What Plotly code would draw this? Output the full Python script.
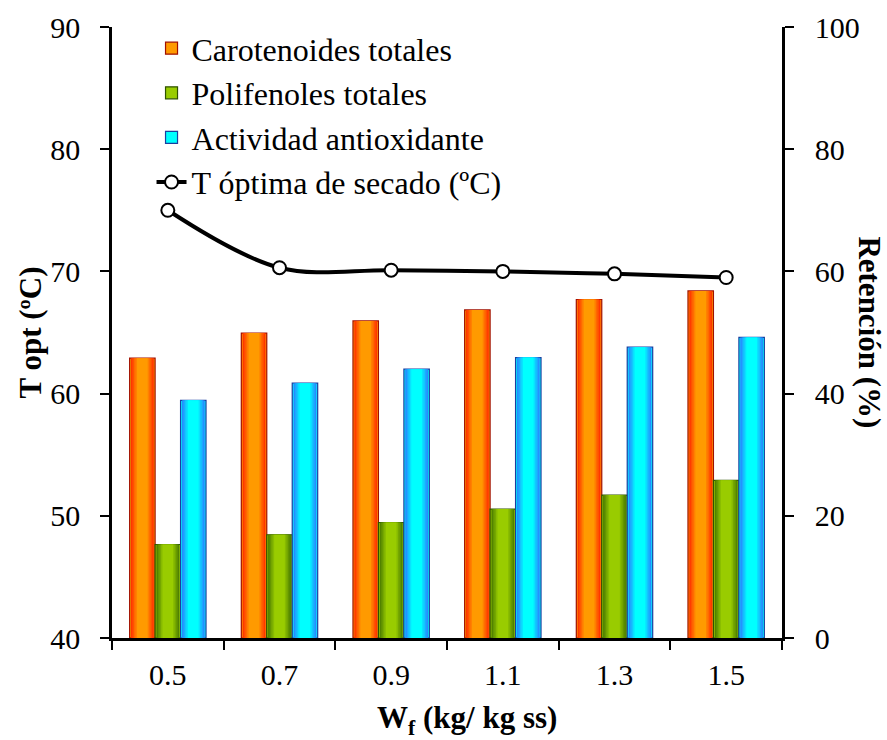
import plotly.graph_objects as go

# Wf (kg/ kg ss)
categorias = ['0.5', '0.7', '0.9', '1.1', '1.3', '1.5']
# Retención (%)
carotenoides = [45.8, 49.9, 51.9, 53.7, 55.4, 56.8]
polifenoles = [15.3, 16.9, 18.9, 21.1, 23.4, 25.8]
actividad = [38.9, 41.7, 44.0, 45.9, 47.6, 49.2]
# T óptima de secado (ºC)
t_opt = [75.0, 70.3, 70.1, 70.0, 69.8, 69.5]

FONT = 'Liberation Serif'
w = 0.228  # bar width in category units


def mix(c1, c2, t):
    a = [int(c1[i:i + 2], 16) for i in (1, 3, 5)]
    b = [int(c2[i:i + 2], 16) for i in (1, 3, 5)]
    return '#' + ''.join('%02x' % round(a[k] + (b[k] - a[k]) * t) for k in range(3))


series = [
    ('Carotenoides totales', carotenoides, '#ff1e00', '#ff9a00', '#a01000'),
    ('Polifenoles totales', polifenoles, '#3f7000', '#99cc00', '#2f5200'),
    ('Actividad antioxidante', actividad, '#2f6fff', '#00ffff', '#1a3fa0'),
]

fig = go.Figure()
for i, (name, vals, edge, center, border) in enumerate(series):
    c = (i - 1) * w
    # base bar (legend entry + border)
    fig.add_trace(go.Bar(x=categorias, y=vals, name=name, width=w, offset=c - w / 2,
                         marker=dict(color=center, line=dict(color=border, width=1.2)),
                         yaxis='y', showlegend=True))
    # horizontal gradient built from narrower overlaid bars
    fracs = [0.9, 0.78, 0.66, 0.54, 0.42]
    for k, f in enumerate(fracs):
        ww = w * f
        fig.add_trace(go.Bar(x=categorias, y=vals, width=ww, offset=c - ww / 2,
                             marker=dict(color=mix(edge, center, (k + 1) / len(fracs)), line=dict(width=0)),
                             yaxis='y', showlegend=False, hoverinfo='skip'))

fig.add_trace(go.Scatter(x=categorias, y=t_opt, name='T óptima de secado (ºC)', yaxis='y2',
                         mode='lines+markers', line=dict(color='black', width=4, shape='spline'),
                         marker=dict(size=13, color='white', line=dict(color='black', width=2))))

axis_common = dict(showline=True, linecolor='black', linewidth=2.5, ticks='outside', ticklen=9,
                   tickwidth=1.5, tickcolor='black', showgrid=False, zeroline=False,
                   tickfont=dict(family=FONT, size=30, color='black'), automargin=False)

fig.update_layout(
    width=887, height=740,
    margin=dict(l=112, r=105, t=27, b=102),
    plot_bgcolor='white', paper_bgcolor='white',
    barmode='overlay',
    font=dict(family=FONT, size=28, color='black'),
    showlegend=True,
    legend=dict(x=0.059, y=1.01, xanchor='left', yanchor='top', bgcolor='rgba(0,0,0,0)',
                font=dict(family=FONT, size=32, color='black'), tracegroupgap=0),
    xaxis=dict(type='category', tickson='boundaries', ticklabelstandoff=8, **axis_common),
    yaxis=dict(side='right', range=[0, 100], dtick=20, tickprefix='\u00a0\u00a0', **axis_common),
    yaxis2=dict(side='left', overlaying='y', range=[40, 90], dtick=10, ticklabelstandoff=14, **axis_common),
    annotations=[
        dict(text='<b>T opt (ºC)</b>', xref='paper', yref='paper', x=-0.121, y=0.5, xanchor='center',
             yanchor='middle', textangle=-90, showarrow=False, font=dict(family=FONT, size=31, color='black')),
        dict(text='<b>Retención (%)</b>', xref='paper', yref='paper', x=1.130, y=0.5, xanchor='center',
             yanchor='middle', textangle=90, showarrow=False, font=dict(family=FONT, size=31, color='black')),
        dict(text='<b>W<sub>f</sub> (kg/ kg ss)</b>', xref='paper', yref='paper', x=0.53, y=-0.134,
             xanchor='center', yanchor='middle', showarrow=False, font=dict(family=FONT, size=31, color='black')),
    ],
)

fig.write_html('out.html', config={'displayModeBar': False},
               post_script="document.body.style.margin='0';")
